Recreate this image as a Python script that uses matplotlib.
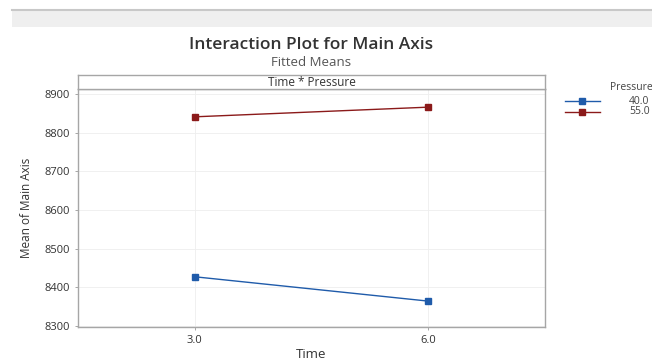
import matplotlib
matplotlib.use("Agg")
import matplotlib.pyplot as plt
from matplotlib.patches import Rectangle
from matplotlib.lines import Line2D

plt.rcParams['font.family'] = ['Open Sans', 'DejaVu Sans']

time_labels = ["3.0", "6.0"]
pressure_levels = ["40.0", "55.0"]
means_40 = [8427, 8364]
means_55 = [8841, 8866]
series_colors = ["#1F5BAA", "#8B1A1A"]
yticks = [8300, 8400, 8500, 8600, 8700, 8800, 8900]

W, H = 652, 364
fig = plt.figure(figsize=(W/100, H/100), dpi=100)

def fx(px): return px / W
def fy(py): return 1 - py / H

# top gray band (screenshot artifact)
fig.patches.append(Rectangle((fx(12), fy(27)), 1 - fx(12), (27 - 9) / H,
                             transform=fig.transFigure, facecolor="#efefef",
                             edgecolor="none", zorder=0))
fig.lines.append(Line2D([fx(12), 1], [fy(10), fy(10)], transform=fig.transFigure,
                        color="#c8c8c8", lw=1.5))

left, right, top, bottom = 78, 545, 89, 327
ax = fig.add_axes([fx(left), fy(bottom), (right - left) / W, (bottom - top) / H])
xpos = list(range(len(time_labels)))
for vals, lab, col in zip([means_40, means_55], pressure_levels, series_colors):
    ax.plot(xpos, vals, color=col, lw=1.0, marker="s", markersize=4.5,
            markerfacecolor=col, markeredgecolor=col, label=lab)

ax.set_xlim(-0.5, 1.5)
ax.set_ylim(8297, 8913)
ax.set_xticks(xpos)
ax.set_xticklabels(time_labels, fontsize=8, color="#333333")
ax.set_yticks(yticks)
ax.set_yticklabels([str(v) for v in yticks], fontsize=8, color="#333333")
ax.tick_params(length=2, width=0.6, color="#999999", pad=4)
ax.grid(True, color="#eeeeee", lw=0.6)
ax.set_axisbelow(True)
for s in ax.spines.values():
    s.set_color("#a6a6a6")
    s.set_linewidth(1.0)
ax.set_ylabel("Mean of Main Axis", fontsize=8.5, color="#333333", labelpad=8)
fig.text(fx(311), fy(355), "Time", ha="center", va="center", fontsize=9.5,
         color="#333333")

# strip panel
sax = fig.add_axes([fx(left), fy(top), (right - left) / W, (top - 75) / H])
sax.set_xticks([]); sax.set_yticks([])
sax.set_facecolor("white")
for s in sax.spines.values():
    s.set_color("#a6a6a6")
    s.set_linewidth(1.0)
sax.text(0.5, 0.5, "Time * Pressure", ha="center", va="center", fontsize=8.5,
         color="#333333", transform=sax.transAxes)

# titles
fig.text(fx(311), fy(45), "Interaction Plot for Main Axis", ha="center", va="center",
         fontsize=12.5, fontweight="semibold", color="#333333")
fig.text(fx(311), fy(62), "Fitted Means", ha="center", va="center",
         fontsize=9.5, color="#555555")

# legend
fig.text(fx(610), fy(87), "Pressure", ha="left", va="center", fontsize=7.5, color="#444444")
for i, (lab, col) in enumerate(zip(pressure_levels, series_colors)):
    yy = fy(101 + i * 11)
    fig.lines.append(Line2D([fx(565), fx(600)], [yy, yy], transform=fig.transFigure,
                            color=col, lw=1.0))
    fig.lines.append(Line2D([fx(582)], [yy], transform=fig.transFigure, color=col,
                            marker="s", markersize=4.5, lw=0))
    fig.text(fx(629), yy, lab, ha="left", va="center", fontsize=7.5, color="#444444")

fig.savefig("out.png", dpi=100)
